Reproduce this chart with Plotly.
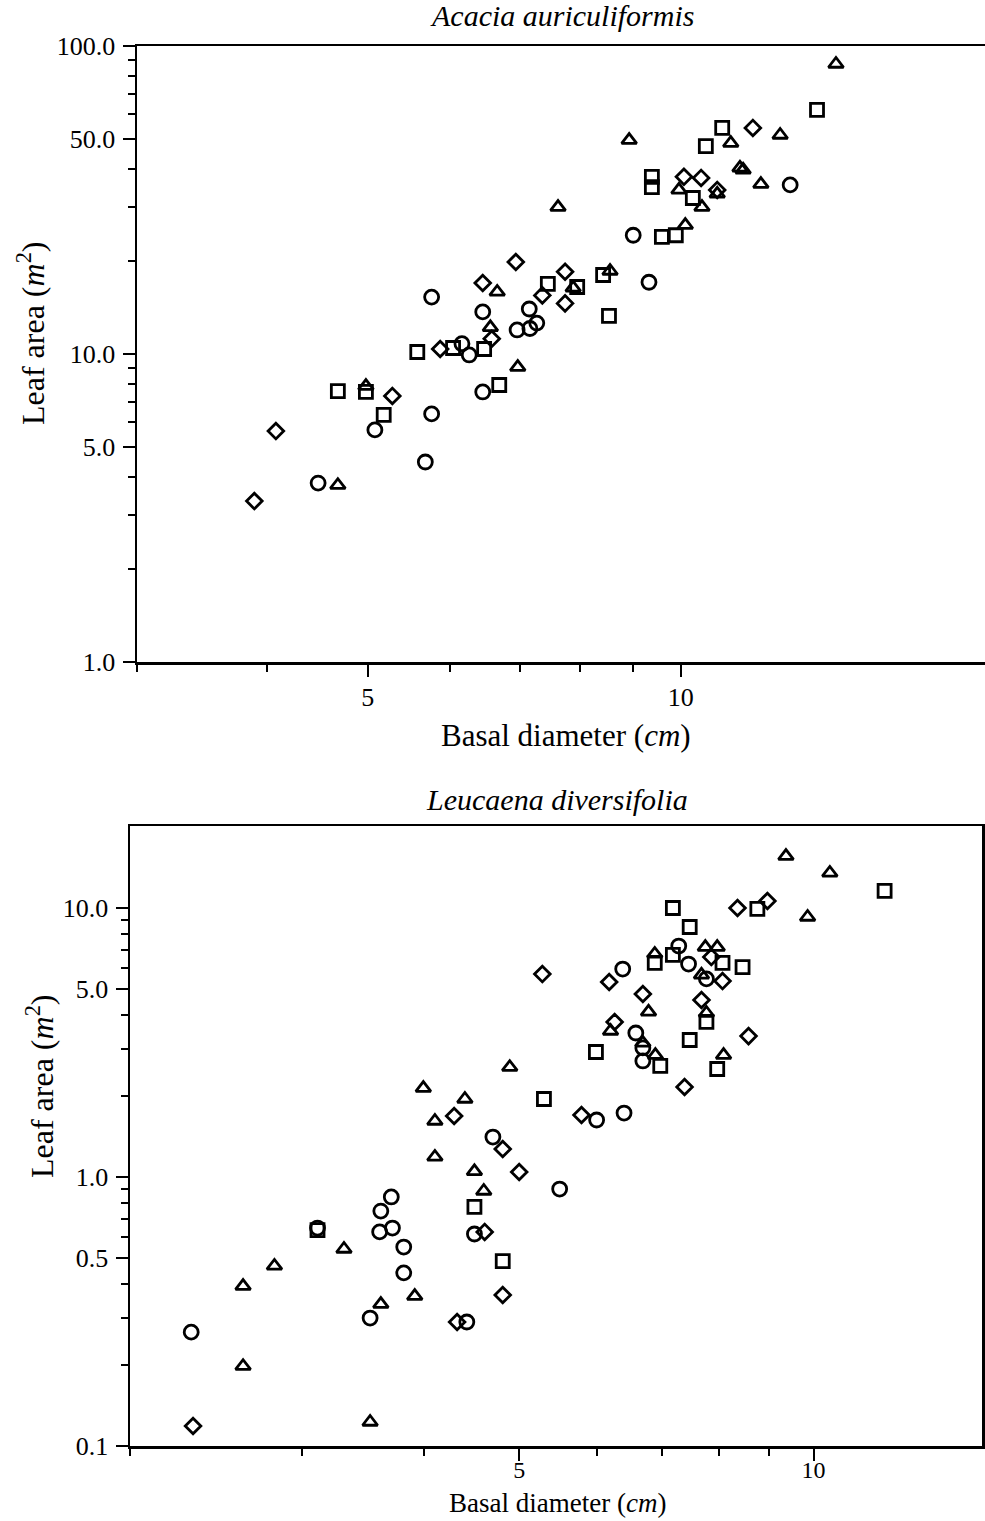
import math
import plotly.graph_objects as go

# ---------------- Data: Acacia auriculiformis (top panel) ----------------
top_circle_x = [5.76, 6.45, 7.15, 6.96, 7.16, 7.27, 6.16, 6.26, 5.08, 5.76, 5.68, 4.48, 6.45, 9.0, 9.32, 12.74]
top_circle_y = [15.3, 13.7, 14.0, 11.97, 12.1, 12.6, 10.8, 9.93, 5.67, 6.39, 4.46, 3.81, 7.53, 24.3, 17.1, 35.4]

top_square_x = [5.58, 6.04, 6.47, 4.68, 4.98, 5.18, 6.69, 7.45, 7.95, 8.42, 8.53, 9.59, 9.89, 9.38, 9.38, 10.27, 10.57, 10.96, 13.52]
top_square_y = [10.15, 10.46, 10.38, 7.58, 7.53, 6.34, 7.93, 16.9, 16.5, 18.05, 13.3, 24.0, 24.3, 37.6, 34.8, 32.1, 47.3, 54.2, 62.0]

top_triangle_x = [14.1, 8.92, 12.46, 11.17, 11.4, 11.48, 11.94, 9.96, 10.48, 10.1, 7.62, 8.55, 6.66, 6.56, 6.97, 4.98, 4.68, 10.84, 7.88]
top_triangle_y = [87.4, 49.5, 51.4, 48.4, 40.2, 39.6, 35.6, 34.1, 30.0, 26.2, 30.0, 18.6, 15.9, 12.2, 9.07, 7.87, 3.75, 33.1, 16.4]

top_diamond_x = [6.94, 7.74, 6.45, 7.36, 7.74, 6.58, 5.87, 5.28, 4.08, 3.89, 10.07, 10.46, 11.73, 10.84]
top_diamond_y = [19.9, 18.5, 17.0, 15.5, 14.6, 11.2, 10.38, 7.31, 5.62, 3.33, 37.6, 37.3, 54.2, 34.1]

# ---------------- Data: Leucaena diversifolia (bottom panel) ----------------
bot_circle_x = [2.31, 3.11, 3.52, 3.61, 3.70, 3.60, 3.71, 3.81, 3.81, 4.42, 4.50, 4.70, 5.50, 6.0, 6.40, 6.38, 6.58, 6.69, 6.69, 7.28, 7.45, 7.77]
bot_circle_y = [0.265, 0.646, 0.299, 0.747, 0.843, 0.625, 0.646, 0.549, 0.44, 0.289, 0.614, 1.408, 0.902, 1.629, 1.729, 5.93, 3.43, 3.02, 2.70, 7.22, 6.19, 5.45]

bot_square_x = [3.11, 4.50, 4.81, 5.30, 5.99, 6.88, 7.18, 7.18, 7.47, 6.97, 7.47, 7.77, 7.97, 8.07, 8.46, 8.76, 11.82]
bot_square_y = [0.635, 0.774, 0.487, 1.95, 2.915, 6.25, 10.0, 6.69, 8.50, 2.587, 3.23, 3.77, 2.52, 6.25, 6.03, 9.92, 11.57]

bot_triangle_x = [2.61, 2.61, 2.81, 3.31, 3.52, 3.61, 3.91, 3.99, 4.10, 4.10, 4.40, 4.50, 4.60, 4.89, 6.20, 6.78, 6.88, 6.89, 7.68, 7.75, 7.97, 7.77, 8.09, 9.37, 10.39, 9.86, 6.69]
bot_triangle_y = [0.393, 0.198, 0.467, 0.540, 0.1228, 0.337, 0.361, 2.14, 1.615, 1.187, 1.95, 1.05, 0.887, 2.56, 3.49, 4.11, 6.75, 2.84, 5.64, 7.16, 7.16, 4.07, 2.84, 15.6, 13.5, 9.26, 3.15]

bot_diamond_x = [2.32, 4.29, 4.32, 4.61, 4.81, 4.81, 5.0, 5.28, 5.79, 6.18, 6.26, 6.69, 7.68, 7.38, 7.86, 8.07, 8.36, 8.97, 8.58]
bot_diamond_y = [0.1187, 1.686, 0.289, 0.625, 1.271, 0.364, 1.044, 5.68, 1.70, 5.31, 3.77, 4.79, 4.55, 2.16, 6.57, 5.35, 10.0, 10.62, 3.34]

# Tick labels
top_y_ticks = [1, 5, 10, 50, 100]
top_y_labels = ["1.0", "5.0", "10.0", "50.0", "100.0"]
top_y_minor = [2, 3, 4, 6, 7, 8, 9, 20, 30, 40, 60, 70, 80, 90]
bot_y_ticks = [0.1, 0.5, 1, 5, 10]
bot_y_labels = ["0.1", "0.5", "1.0", "5.0", "10.0"]
bot_y_minor = [0.2, 0.3, 0.4, 0.6, 0.7, 0.8, 0.9, 2, 3, 4, 6, 7, 8, 9]
x_ticks = [5, 10]
x_labels = ["5", "10"]
top_x_minor = [3, 4, 6, 7, 8, 9]
bot_x_minor = [2, 3, 4, 6, 7, 8, 9]

W, H = 985, 1521
FONT = "Liberation Serif"

fig = go.Figure()

def add_group(x, y, symbol, size, xa, ya):
    fig.add_trace(go.Scatter(
        x=x, y=y, mode="markers", xaxis=xa, yaxis=ya, showlegend=False,
        hoverinfo="skip",
        marker=dict(symbol=symbol, size=size, color="black",
                    line=dict(color="black", width=2.8)),
    ))

for xa, ya, data in [
    ("x", "y", [(top_circle_x, top_circle_y, "circle-open", 14),
                (top_square_x, top_square_y, "square-open", 13),
                (top_triangle_x, top_triangle_y, "triangle-up-open", 13),
                (top_diamond_x, top_diamond_y, "diamond-open", 12)]),
    ("x2", "y2", [(bot_circle_x, bot_circle_y, "circle-open", 14),
                  (bot_square_x, bot_square_y, "square-open", 13),
                  (bot_triangle_x, bot_triangle_y, "triangle-up-open", 13),
                  (bot_diamond_x, bot_diamond_y, "diamond-open", 12)]),
]:
    for x, y, s, sz in data:
        add_group(x, y, s, sz, xa, ya)

TICKFONT = dict(family=FONT, size=26, color="black")
BOT_X_TICKFONT = dict(family=FONT, size=24, color="black")

def minor_spec(vals):
    return dict(tickmode="array", tickvals=vals, ticks="outside",
                ticklen=7, tickwidth=2, tickcolor="black", showgrid=False)

def axis_common():
    return dict(type="log", showline=True, linecolor="black", linewidth=2.5,
                ticks="outside", ticklen=12, tickwidth=2, tickcolor="black",
                showgrid=False, zeroline=False, tickfont=TICKFONT,
                tickmode="array", automargin=False)

top_x0, top_x1 = 137, 985
top_y0, top_y1 = 46, 662
bot_x0, bot_x1 = 130, 982
bot_y0, bot_y1 = 826, 1446

xa1 = axis_common()
xa1.update(domain=[top_x0 / W, top_x1 / W], anchor="y", mirror=True,
           range=[math.log10(3), math.log10(3) + (top_x1 - top_x0) / 1040],
           tickvals=x_ticks, ticktext=x_labels, ticklabelstandoff=-2,
           minor=minor_spec(top_x_minor))
ya1 = axis_common()
ya1.update(domain=[1 - top_y1 / H, 1 - top_y0 / H], anchor="x", mirror=False,
           range=[0, 2], tickvals=top_y_ticks, ticktext=top_y_labels,
           ticklabelstandoff=2, minor=minor_spec(top_y_minor))

xa2 = axis_common()
xa2.update(domain=[bot_x0 / W, bot_x1 / W], anchor="y2", mirror=True,
           range=[math.log10(2), math.log10(2) + (bot_x1 - bot_x0) / 978],
           tickvals=x_ticks, ticktext=x_labels, ticklabelstandoff=-11,
           tickfont=BOT_X_TICKFONT, minor=minor_spec(bot_x_minor))
ya2 = axis_common()
ya2.update(domain=[1 - bot_y1 / H, 1 - bot_y0 / H], anchor="x2", mirror=True,
           range=[-1, -1 + (bot_y1 - bot_y0) / 269], tickvals=bot_y_ticks, ticktext=bot_y_labels,
           ticklabelstandoff=2, minor=minor_spec(bot_y_minor))

def ann(text, px, py, size, angle=0):
    return dict(text=text, x=px / W, y=1 - py / H, xref="paper", yref="paper",
                showarrow=False, textangle=angle, xanchor="center", yanchor="middle",
                font=dict(family=FONT, size=size, color="black"))

annotations = [
    ann("<i>Acacia auriculiformis</i>", 562, 16, 30),
    ann("Basal diameter (<i>cm</i>)", 566, 735, 31),
    ann("Leaf area (<i>m</i><sup>2</sup>)", 31, 333, 32, -90),
    ann("<i>Leucaena diversifolia</i>", 557, 799, 30),
    ann("Basal diameter (<i>cm</i>)", 557, 1503, 27),
    ann("Leaf area (<i>m</i><sup>2</sup>)", 40, 1086, 32, -90),
]

fig.update_layout(
    template="none",
    width=W, height=H, margin=dict(l=0, r=0, t=0, b=0, autoexpand=False),
    paper_bgcolor="white", plot_bgcolor="white",
    font=dict(family=FONT, size=26, color="black"),
    xaxis=xa1, yaxis=ya1, xaxis2=xa2, yaxis2=ya2,
    annotations=annotations, showlegend=False, hovermode=False,
)

fig.write_html(
    "out.html",
    config={"displayModeBar": False, "staticPlot": True},
    post_script="document.body.style.margin='0px';document.body.style.overflow='hidden';",
)
